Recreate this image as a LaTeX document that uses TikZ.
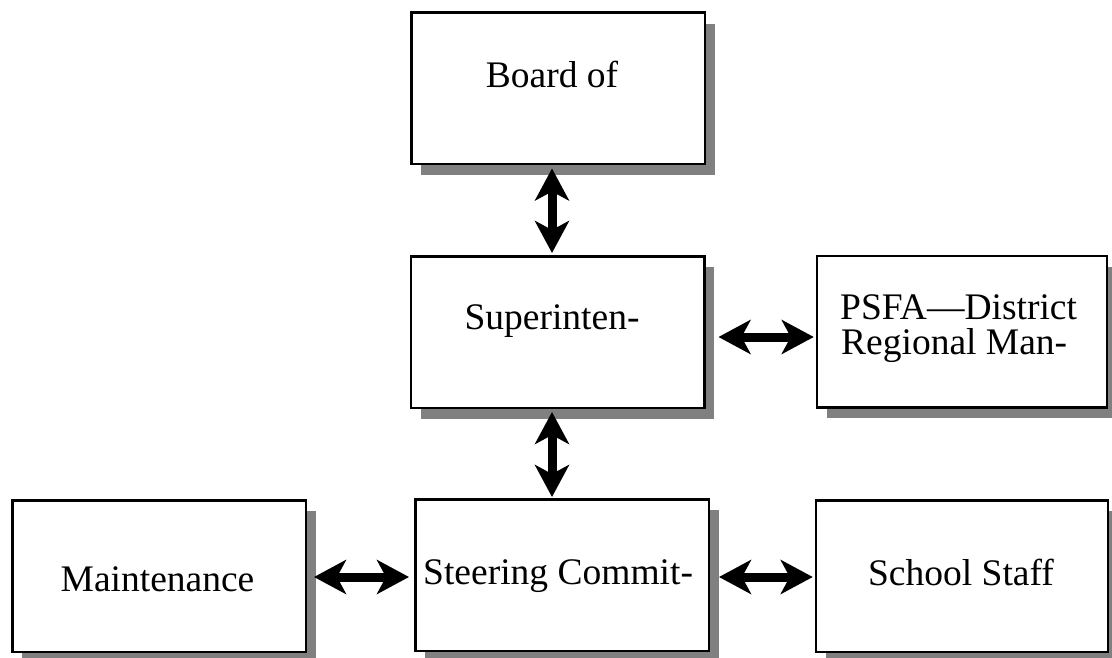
\documentclass[tikz,border=0pt]{standalone}
\usepackage{fontspec}
\setmainfont{Liberation Serif}
\usetikzlibrary{arrows.meta,shadows}

\begin{document}
\begin{tikzpicture}[x=1pt,y=-1pt,
    box/.style={draw,line width=2.5pt,fill=white,inner sep=0pt,
      minimum width=293.5pt,minimum height=151.5pt,
      drop shadow={shadow xshift=10pt,shadow yshift=-11pt,
        fill=black!50,opacity=1}},
    lbl/.style={font=\fontsize{37.5}{35}\selectfont,inner sep=0pt},
    dbl/.style={line width=9pt,
      >={Stealth[length=32pt,width=34pt,inset=9pt]},<->}]
  \useasboundingbox (0,0) rectangle (1112,658);
  %\draw[very thin,lightgray,step=50] (0,0) grid (1112,658);
  % boxes
  \node[box] (board) at (558,88.5) {};
  \node[box] (super) at (557.5,332) {};
  \node[box,minimum width=290pt] (psfa) at (962,331.5) {};
  \node[box] (maint) at (159,576) {};
  \node[box] (steer) at (562,575) {};
  \node[box,minimum width=292pt] (school) at (962,576) {};
  % texts
  \node[lbl,anchor=base] (board-t) at (552,88) {Board of};
  \node[lbl,anchor=base] (super-t) at (552,329) {Superinten-};
  \node[lbl,anchor=base west] (psfa-t1) at (840,319) {PSFA---District};
  \node[lbl,anchor=base west] (psfa-t2) at (841,354) {Regional Man-};
  \node[lbl,anchor=base] (maint-t) at (157.5,591) {Maintenance};
  \node[lbl,anchor=base west] (steer-t) at (423,584) {Steering Commit-};
  \node[lbl,anchor=base] (school-t) at (961,585) {School Staff};
  % arrows
  \draw[dbl,shorten <=3pt,shorten >=2pt] ([xshift=-6pt]board.south)
    -- ([xshift=-5.5pt]super.north);
  \draw[dbl,shorten <=3pt,shorten >=1pt] ([xshift=-5.5pt]super.south)
    -- ([xshift=-10pt]steer.north);
  \draw[dbl,shorten <=13pt,shorten >=2pt] ([yshift=-5pt]super.east)
    -- ([yshift=-5.5pt]psfa.west);
  \draw[dbl,shorten <=7pt,shorten >=5pt] ([yshift=-1pt]maint.east)
    -- ([yshift=-2pt]steer.west);
  \draw[dbl,shorten <=9pt,shorten >=2pt] ([yshift=-2pt]steer.east)
    -- ([yshift=-1pt]school.west);
\end{tikzpicture}
\end{document}
